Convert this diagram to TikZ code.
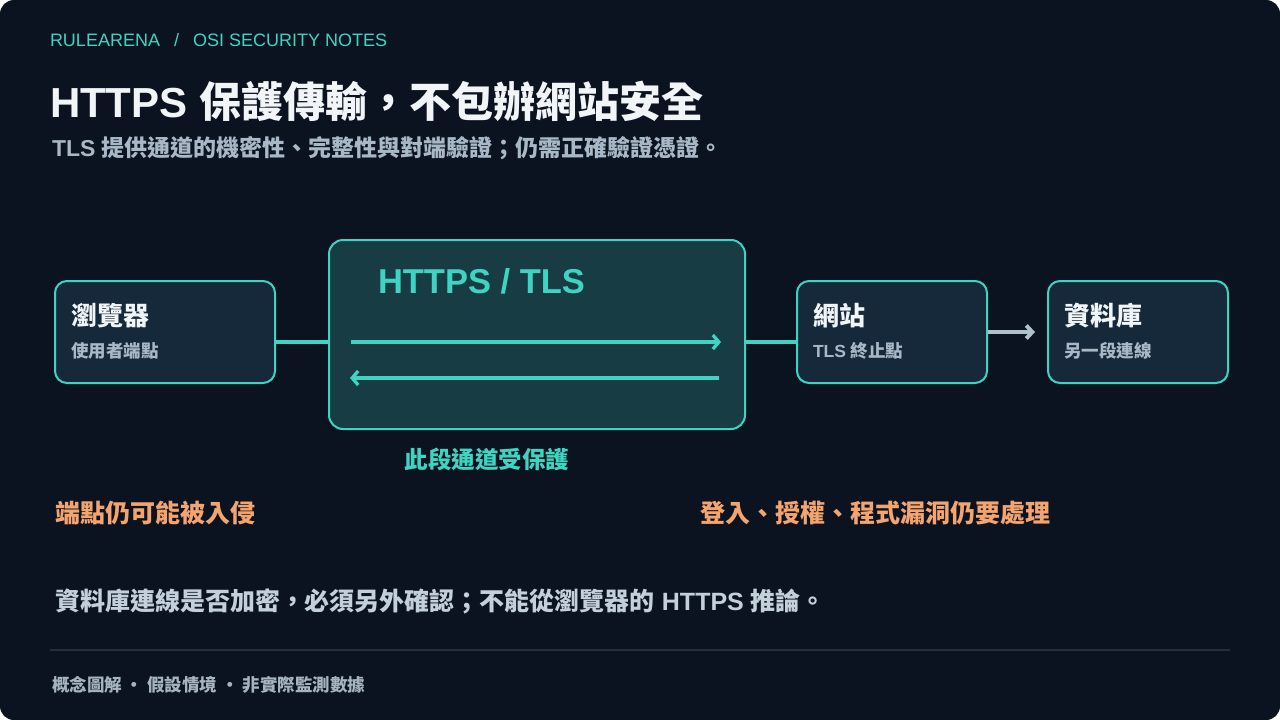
\documentclass[tikz,border=0pt]{standalone}
\usepackage{fontspec}
\setmainfont{Liberation Sans}
\newfontfamily\cjk{Noto Sans CJK TC}
\usetikzlibrary{arrows.meta}
\definecolor{bg}{HTML}{0B1320}
\definecolor{teal}{HTML}{3FD4C1}
\definecolor{nodefill}{HTML}{15293A}
\definecolor{boxfill}{HTML}{173C44}
\definecolor{arrowgray}{HTML}{AFC1CB}
\definecolor{subgray}{HTML}{A9B8C6}
\definecolor{linegray}{HTML}{C3CFD9}
\definecolor{footgray}{HTML}{A6B4C0}
\definecolor{orange}{HTML}{F4A46E}
\definecolor{titlewhite}{HTML}{F1F5F8}
\definecolor{sepline}{HTML}{213040}
\newcommand\setfs[1]{\fontsize{#1pt}{#1pt}\selectfont}
\begin{document}
\begin{tikzpicture}[x=1pt,y=-1pt,
  txt/.style={anchor=base west, inner sep=0pt, outer sep=0pt},
  card/.style={draw=teal, line width=2pt, fill=nodefill, rounded corners=12pt, inner sep=0pt},
  tealline/.style={draw=teal, line width=3.3pt},
  tealarrow/.style={draw=teal, line width=3.3pt, -{Straight Barb[length=6pt,width=14pt]}},
  grayarrow/.style={draw=arrowgray, line width=4pt, -{Straight Barb[length=6pt,width=13pt]}},
  ntitle/.style={txt, font={\cjk\bfseries\setfs{26}}, text=titlewhite},
  nsub/.style={txt, font={\bfseries\setfs{17.5}}, text=subgray},
  warn/.style={txt, font={\cjk\bfseries\setfs{25}}, text=orange}]
\useasboundingbox (0,0) rectangle (1280,720);
\fill[white] (0,0) rectangle (1280,720);
\fill[bg, rounded corners=14pt] (0,0) rectangle (1280,720);

% header
\node[txt, font={\setfs{18}}, text=teal] (hdr) at (50,46) {RULEARENA\hspace{14pt}/\hspace{14pt}OSI SECURITY NOTES};
\node[txt, font={\bfseries\setfs{42}}, text=titlewhite] (title) at (50,117) {HTTPS {\cjk 保護傳輸，不包辦網站安全}};
\node[txt, font={\bfseries\setfs{23}}, text=subgray] (subtitle) at (52,156) {TLS {\cjk 提供通道的機密性、完整性與對端驗證；仍需正確驗證憑證。}};

% boxes
\node[card, minimum width=220pt, minimum height=102pt] (browser) at (165,332) {};
\node[card, fill=boxfill, rounded corners=14pt, minimum width=416pt, minimum height=189pt] (tls) at (537,334.5) {};
\node[card, minimum width=190pt, minimum height=102pt] (site) at (892,332) {};
\node[card, minimum width=180pt, minimum height=102pt] (db) at (1138,332) {};

\node[ntitle] (browserT) at (71,325.5) {瀏覽器};
\node[nsub, font={\cjk\bfseries\setfs{17.5}}] (browserS) at (71,357.5) {使用者端點};
\node[ntitle] (siteT) at (813,325.5) {網站};
\node[nsub] (siteS) at (813,357.5) {TLS {\cjk 終止點}};
\node[ntitle] (dbT) at (1064,325.5) {資料庫};
\node[nsub, font={\cjk\bfseries\setfs{17.5}}] (dbS) at (1064,357.5) {另一段連線};

\node[txt, font={\bfseries\setfs{34.5}}, text=teal] (tlsT) at (378,293) {HTTPS / TLS};

% arrows inside tunnel
\coordinate (r1) at (351,342);
\coordinate (r2) at (721,342);
\coordinate (l1) at (719,378);
\coordinate (l2) at (350,378);
\draw[tealarrow] (r1) -- (r2);
\draw[tealarrow] (l1) -- (l2);

% connectors
\draw[tealline] (browser.east |- r1) -- (tls.west |- r1);
\draw[tealline] (tls.east |- r1) -- (site.west |- r1);
\draw[grayarrow, shorten >=12pt] (site.east) -- (db.west);

\node[anchor=base, inner sep=0pt, font={\cjk\bfseries\setfs{23.5}}, text=teal] (prot) at (487,468) {此段通道受保護};

\node[warn] (warn1) at (55,522) {端點仍可能被入侵};
\node[warn] (warn2) at (700,522) {登入、授權、程式漏洞仍要處理};

\node[txt, font={\bfseries\setfs{25}}, text=linegray] (note) at (55,610) {{\cjk 資料庫連線是否加密，必須另外確認；不能從瀏覽器的} HTTPS {\cjk 推論。}};

\coordinate (s1) at (50,650);
\coordinate (s2) at (1230,650);
\draw[sepline, line width=2pt] (s1) -- (s2);

\node[txt, font={\cjk\bfseries\setfs{17.5}}, text=footgray] (foot) at (52,691.5) {概念圖解\hspace{4pt}·\hspace{4pt}假設情境\hspace{4pt}·\hspace{4pt}非實際監測數據};
\end{tikzpicture}
\end{document}
